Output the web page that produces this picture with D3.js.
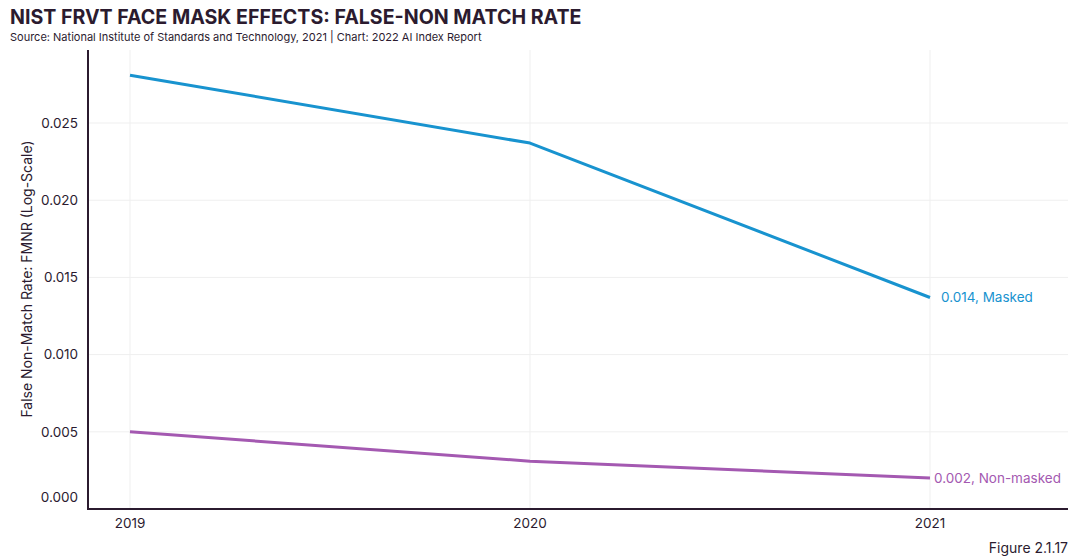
<!DOCTYPE html>
<html><head><meta charset="utf-8">
<script src="https://cdn.jsdelivr.net/npm/d3@7"></script>
<style>body{margin:0;background:#fff;} text{font-family:Inter, "Noto Sans", sans-serif;}</style>
</head><body>
<svg id="c" width="1080" height="559"></svg>
<script>
const years = [2019, 2020, 2021];
const masked = [0.0281, 0.0237, 0.0137];
const nonMasked = [0.0050, 0.0031, 0.0020];
const seriesNames = ["Masked", "Non-masked"];
const endLabels = ["0.014, Masked", "0.002, Non-masked"];
const yTicks = [0, 0.005, 0.010, 0.015, 0.020, 0.025];

(function(){
const svg = d3.select("#c");
const dark = "#2b1b2f";
const colors = ["#1893cf", "#a459b1"];

svg.append("text").attr("x", 10).attr("y", 24).attr("font-size", 19.6).attr("font-weight", 700)
  .attr("fill", dark).text("NIST FRVT FACE MASK EFFECTS: FALSE-NON MATCH RATE");
svg.append("text").attr("x", 10).attr("y", 41).attr("font-size", 11).attr("fill", dark)
  .text("Source: National Institute of Standards and Technology, 2021 | Chart: 2022 AI Index Report");

const mL = 88, mR = 1068, mT = 50, mB = 509;
const x = d3.scalePoint().domain(years).range([130, 930]);
const y = d3.scaleLinear().domain([0, 0.02973]).range([mB, mT]);

const g = svg.append("g");
g.selectAll(".hg").data(yTicks.slice(1)).enter().append("line")
  .attr("x1", mL).attr("x2", mR).attr("y1", d => y(d)).attr("y2", d => y(d))
  .attr("stroke", "#efefef").attr("stroke-width", 1);
g.selectAll(".vg").data(years).enter().append("line")
  .attr("x1", d => x(d)).attr("x2", d => x(d)).attr("y1", mT).attr("y2", mB)
  .attr("stroke", "#efefef").attr("stroke-width", 1);

g.selectAll(".yl").data(yTicks).enter().append("text")
  .attr("x", 78).attr("y", d => d === 0 ? y(d) - 12 : y(d)).attr("dy", "0.35em")
  .attr("text-anchor", "end").attr("font-size", 13.5).attr("fill", dark)
  .text(d => d3.format(".3f")(d));
g.selectAll(".xl").data(years).enter().append("text")
  .attr("x", d => x(d)).attr("y", 528).attr("text-anchor", "middle")
  .attr("font-size", 13.5).attr("fill", dark).text(d => d);

svg.append("line").attr("x1", mL).attr("x2", mL).attr("y1", mT).attr("y2", mB)
  .attr("stroke", dark).attr("stroke-width", 2);
svg.append("line").attr("x1", mL - 1).attr("x2", mR).attr("y1", mB).attr("y2", mB)
  .attr("stroke", dark).attr("stroke-width", 2);

svg.append("text").attr("transform", `translate(32, 279) rotate(-90)`)
  .attr("text-anchor", "middle").attr("font-size", 14).attr("fill", dark)
  .text("False Non-Match Rate: FMNR (Log-Scale)");

const line = d3.line().x((d, i) => x(years[i])).y(d => y(d));
[masked, nonMasked].forEach((s, k) => {
  svg.append("path").attr("d", line(s)).attr("fill", "none")
    .attr("stroke", colors[k]).attr("stroke-width", 3).attr("stroke-linejoin", "round");
  svg.append("text").attr("x", x(years[2]) + (k === 0 ? 11 : 4)).attr("y", y(s[2]))
    .attr("dy", "0.35em").attr("font-size", 13.5).attr("fill", colors[k]).text(endLabels[k]);
});

svg.append("text").attr("x", 1068).attr("y", 553).attr("text-anchor", "end")
  .attr("font-size", 14).attr("fill", dark).text("Figure 2.1.17");
})();
</script>
</body></html>
